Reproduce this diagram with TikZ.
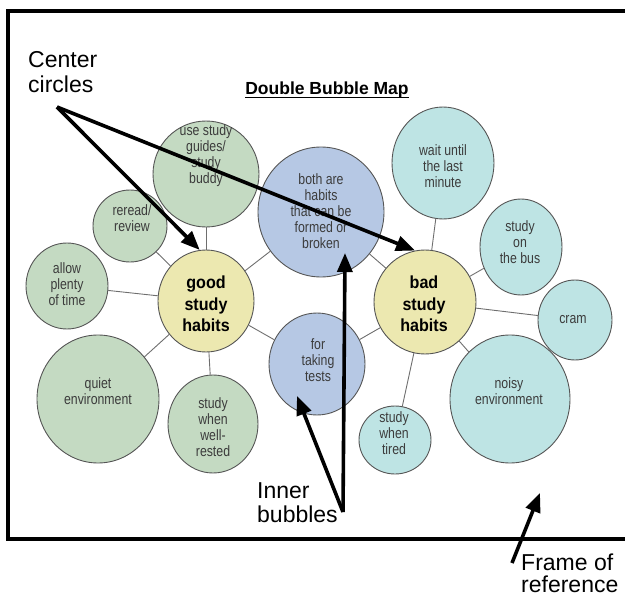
\documentclass[tikz,border=0pt]{standalone}
\usepackage{fontspec}
\setmainfont{Liberation Sans}
\newfontfamily\bubfont[FakeStretch=0.82]{Liberation Sans}
\newfontfamily\ctrfont[FakeStretch=0.92]{Liberation Sans}
\usetikzlibrary{shapes.geometric,arrows.meta}
\definecolor{gfill}{RGB}{196,218,194}
\definecolor{cfill}{RGB}{190,228,228}
\definecolor{bfill}{RGB}{182,200,228}
\definecolor{yfill}{RGB}{236,232,176}
\definecolor{bord}{RGB}{85,85,85}
\definecolor{connc}{RGB}{110,110,110}
\definecolor{txtc}{RGB}{60,60,60}
\begin{document}
\begin{tikzpicture}[x=1pt,y=-1pt,
  bub/.style={ellipse, draw=bord, line width=0.9pt, inner sep=0pt},
  btxt/.style={font=\bubfont\fontsize{15}{16}\selectfont, text=txtc, align=center, inner sep=0pt},
  ctxt/.style={font=\ctrfont\bfseries\fontsize{17.5}{21.5}\selectfont, align=center, inner sep=0pt},
  conn/.style={draw=connc, line width=0.9pt},
  ann/.style={font=\fontsize{23}{24.5}\selectfont, inner sep=0pt},
  bigarrow/.style={line width=3.6pt, -{Triangle[length=19pt,width=15pt]}}
]
\useasboundingbox (0,0) rectangle (625,597);
% frame
\draw[line width=4pt] (640,11) -- (8,11) -- (8,539) -- (640,539);

% bubbles
\node[bub, fill=gfill, minimum width=106pt, minimum height=106pt] (g1) at (206,174) {};
\node[bub, fill=gfill, minimum width=74pt, minimum height=72pt] (g2) at (130,226) {};
\node[bub, fill=gfill, minimum width=82pt, minimum height=86pt] (g3) at (67,286) {};
\node[bub, fill=gfill, minimum width=122pt, minimum height=128pt] (g4) at (98,399) {};
\node[bub, fill=gfill, minimum width=90pt, minimum height=98pt] (g5) at (213,424) {};
\node[bub, fill=yfill, minimum width=96pt, minimum height=102pt] (good) at (206,301) {};
\node[bub, fill=bfill, minimum width=126pt, minimum height=130pt] (both) at (321,212) {};
\node[bub, fill=bfill, minimum width=96pt, minimum height=102pt] (tests) at (317,364) {};
\node[bub, fill=yfill, minimum width=102pt, minimum height=104pt] (bad) at (425,302) {};
\node[bub, fill=cfill, minimum width=102pt, minimum height=112pt] (b1) at (443,163) {};
\node[bub, fill=cfill, minimum width=82pt, minimum height=96pt] (b2) at (521,247) {};
\node[bub, fill=cfill, minimum width=74pt, minimum height=80pt] (b3) at (575,320) {};
\node[bub, fill=cfill, minimum width=120pt, minimum height=128pt] (b4) at (510,399) {};
\node[bub, fill=cfill, minimum width=72pt, minimum height=68pt] (b5) at (395,440) {};

% connectors
\foreach \n in {g1,g2,g3,g4,g5,both,tests}{\draw[conn] (good) -- (\n);}
\foreach \n in {b1,b2,b3,b4,b5,both,tests}{\draw[conn] (bad) -- (\n);}

% bubble texts
\node[btxt] (tg1) at (206,156) {use study\\guides/\\study\\buddy};
\node[btxt] (tg2) at (132,218) {reread/\\review};
\node[btxt] (tg3) at (67,284) {allow\\plenty\\of time};
\node[btxt] (tg4) at (98,391) {quiet\\environment};
\node[btxt] (tg5) at (213,427) {study\\when\\well-\\rested};
\node[ctxt] (tgood) at (206,304) {good\\study\\habits};
\node[btxt] (tboth) at (321,211) {both are\\habits\\that can be\\formed or\\broken};
\node[btxt] (ttests) at (318,360) {for\\taking\\tests};
\node[ctxt] (tbad) at (424,304) {bad\\study\\habits};
\node[btxt] (tb1) at (443,166) {wait until\\the last\\minute};
\node[btxt] (tb2) at (520,242) {study\\on\\the bus};
\node[btxt] (tb3) at (573,320) {cram};
\node[btxt] (tb4) at (509,391) {noisy\\environment};
\node[btxt] (tb5) at (394,433) {study\\when\\tired};

% title
\node[anchor=base, inner sep=0pt, font=\bfseries\fontsize{17.5}{20}\selectfont] (title) at (327,94) {Double Bubble Map};
\draw[line width=1.5pt] ([yshift=-3.5pt]title.base west) -- ([yshift=-3.5pt]title.base east);

% annotations
\node[ann, anchor=north west, align=left] (center) at (28,51.5) {Center\\circles};
\node[ann, anchor=north west, align=left] (inner) at (257,482) {Inner\\bubbles};
\node[ann, anchor=north west, align=left, font=\fontsize{23}{22}\selectfont] (frame) at (521,553.5) {Frame of\\reference};

\coordinate (cstart) at (57,107);
\coordinate (istart) at (343,512);
\coordinate (itip1) at (345,253);
\coordinate (itip2) at (297,396);
\coordinate (fstart) at (512,563);
\coordinate (ftip) at (540,493);

\draw[bigarrow] (cstart) -- (good.97);
\draw[bigarrow] (cstart) -- (bad.101);
\draw[bigarrow] (istart) -- (itip1);
\draw[bigarrow] (istart) -- (itip2);
\draw[bigarrow] (fstart) -- (ftip);
\end{tikzpicture}
\end{document}
